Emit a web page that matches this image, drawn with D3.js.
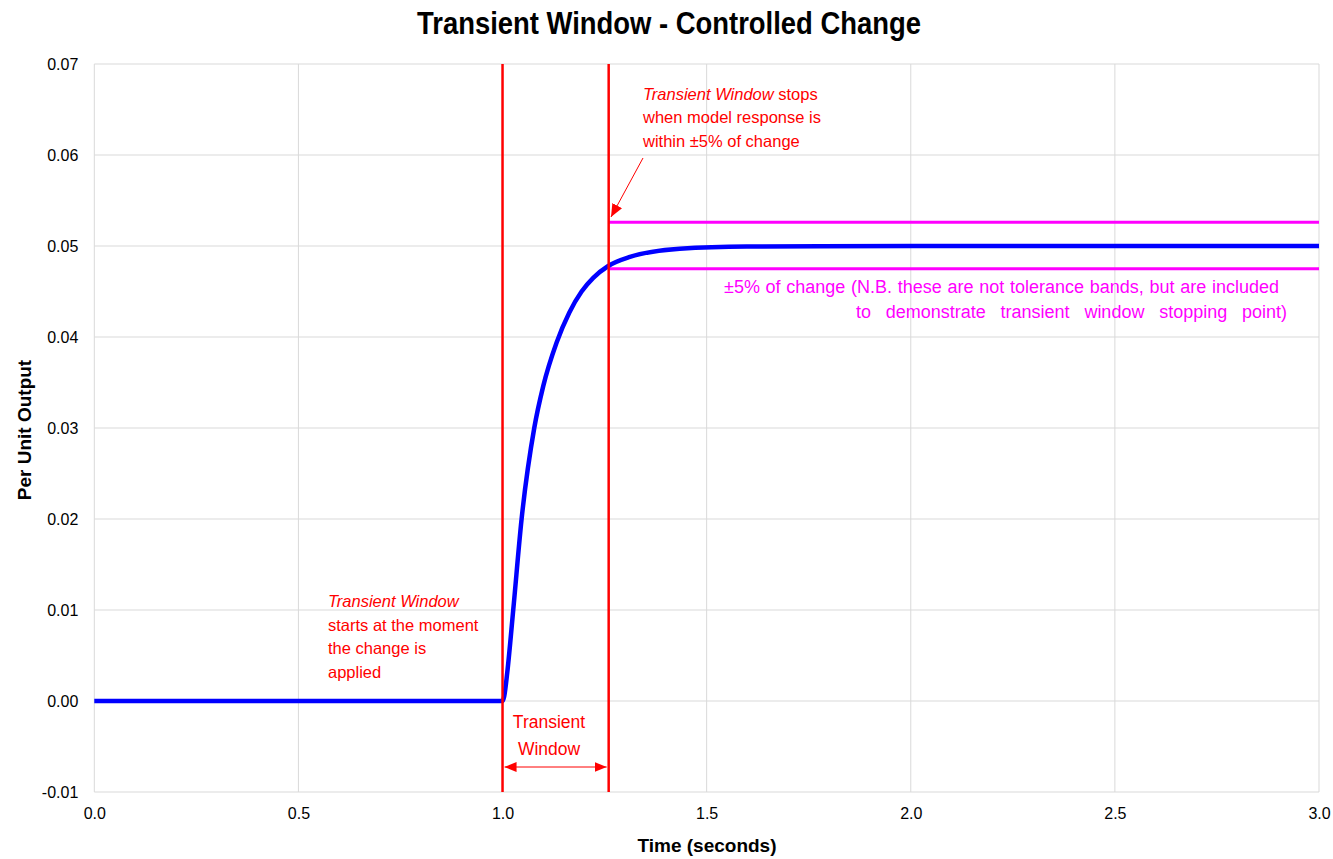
<!DOCTYPE html>
<html><head><meta charset="utf-8">
<script src="https://cdn.jsdelivr.net/npm/d3@7"></script>
<style>
body{margin:0;background:#fff;}
text{font-family:"Liberation Sans Narrow","Arial Narrow","Liberation Sans",Arial,sans-serif;}
</style></head>
<body><svg id="c" width="1333" height="859"></svg>
<script>
const xTicks = [0, 0.5, 1.0, 1.5, 2.0, 2.5, 3.0];
const yTicks = [-0.01, 0.00, 0.01, 0.02, 0.03, 0.04, 0.05, 0.06, 0.07];
const responseTime = [0, 0.5, 1.0, 1.004, 1.0115, 1.0262, 1.0467, 1.0777, 1.0997, 1.1325, 1.1637, 1.1937, 1.2222, 1.2589, 1.312, 1.434, 1.598, 2.0, 2.5, 3.0];
const responseValue = [0, 0, 0, 0.0005, 0.0031, 0.01, 0.02, 0.03, 0.0346, 0.0394, 0.0427, 0.045, 0.0465, 0.0478, 0.0488, 0.0497, 0.04995, 0.05, 0.05, 0.05];
const windowStart = 1.0;
const windowEnd = 1.26;
const bandUpper = 0.0526;
const bandLower = 0.0475;
const bandEnd = 3.0;

const svg = d3.select("#c");
const x = d3.scaleLinear().domain([0, 3]).range([94.3, 1319]);
const y = d3.scaleLinear().domain([-0.01, 0.07]).range([792, 64]);
const grid = "#d9d9d9";
const FF = '"Liberation Sans Narrow","Arial Narrow","Liberation Sans",Arial,sans-serif';

// gridlines
svg.append("g").selectAll("line").data(yTicks).join("line")
  .attr("x1", x(0)).attr("x2", x(3)).attr("y1", d => y(d)).attr("y2", d => y(d))
  .attr("stroke", grid).attr("stroke-width", 1);
svg.append("g").selectAll("line").data(xTicks).join("line")
  .attr("x1", d => x(d)).attr("x2", d => x(d)).attr("y1", y(-0.01)).attr("y2", y(0.07))
  .attr("stroke", grid).attr("stroke-width", 1);

// axes
const yAxis = d3.axisLeft(y).tickValues(yTicks).tickFormat(d => d3.format(".2f")(d).replace("\u2212", "-")).tickSize(0).tickPadding(16);
const gy = svg.append("g").attr("transform", `translate(${x(0)},0)`).call(yAxis);
gy.select(".domain").remove();
gy.selectAll("text").attr("font-size", 16).attr("fill", "#000").style("font-family", FF);
const xAxis = d3.axisBottom(x).tickValues(xTicks).tickFormat(d3.format(".1f")).tickSize(0).tickPadding(16);
const gx = svg.append("g").attr("transform", `translate(0,${y(-0.01)})`).call(xAxis);
gx.select(".domain").remove();
gx.selectAll("text").attr("font-size", 16).attr("fill", "#000").style("font-family", FF);

// titles
svg.append("text").attr("x", 417).attr("y", 34)
  .attr("font-size", 31).attr("font-weight", "bold")
  .attr("textLength", 504).attr("lengthAdjust", "spacingAndGlyphs")
  .text("Transient Window - Controlled Change");
svg.append("text").attr("x", 707).attr("y", 852).attr("text-anchor", "middle")
  .attr("font-size", 19).attr("font-weight", "bold").text("Time (seconds)");
svg.append("text").attr("transform", "translate(31,430) rotate(-90)").attr("text-anchor", "middle")
  .attr("font-size", 19).attr("font-weight", "bold").text("Per Unit Output");

// magenta bands
svg.append("g").selectAll("line").data([bandUpper, bandLower]).join("line")
  .attr("x1", x(windowEnd)).attr("x2", x(bandEnd)).attr("y1", d => y(d)).attr("y2", d => y(d))
  .attr("stroke", "#ff00ff").attr("stroke-width", 3);

// response
const pts = responseTime.map((t, i) => [t, responseValue[i]]);
svg.append("path").datum(pts)
  .attr("d", d3.line().x(d => x(d[0])).y(d => y(d[1])).curve(d3.curveMonotoneX))
  .attr("fill", "none").attr("stroke", "#0000ff").attr("stroke-width", 4.5).attr("stroke-linejoin", "round");

// red vertical lines
svg.append("g").selectAll("line").data([windowStart, windowEnd]).join("line")
  .attr("x1", d => x(d)).attr("x2", d => x(d)).attr("y1", y(0.07)).attr("y2", y(-0.01))
  .attr("stroke", "#ff0000").attr("stroke-width", 2.5);

// markers
const defs = svg.append("defs");
defs.append("marker").attr("id", "ah").attr("viewBox", "0 0 10 10").attr("refX", 10).attr("refY", 5)
  .attr("markerWidth", 12).attr("markerHeight", 10).attr("markerUnits", "userSpaceOnUse").attr("orient", "auto-start-reverse")
  .attr("preserveAspectRatio", "none")
  .append("path").attr("d", "M0,0 L10,5 L0,10 Z").attr("fill", "#ff0000");
defs.append("marker").attr("id", "ah2").attr("viewBox", "0 0 10 10").attr("refX", 10).attr("refY", 5)
  .attr("markerWidth", 13).attr("markerHeight", 11).attr("markerUnits", "userSpaceOnUse").attr("orient", "auto")
  .attr("preserveAspectRatio", "none")
  .append("path").attr("d", "M0,0 L10,5 L0,10 Z").attr("fill", "#ff0000");

// window double arrow
svg.append("line").attr("x1", x(windowStart) + 2).attr("x2", x(windowEnd) - 2).attr("y1", 767).attr("y2", 767)
  .attr("stroke", "#ff0000").attr("stroke-width", 1)
  .attr("marker-start", "url(#ah)").attr("marker-end", "url(#ah)");
svg.append("text").attr("x", 549).attr("y", 728).attr("text-anchor", "middle")
  .attr("font-size", 17.5).attr("fill", "#ff0000").text("Transient");
svg.append("text").attr("x", 549).attr("y", 755).attr("text-anchor", "middle")
  .attr("font-size", 17.5).attr("fill", "#ff0000").text("Window");

// pointer arrow
svg.append("line").attr("x1", 643).attr("y1", 158).attr("x2", 611).attr("y2", 217)
  .attr("stroke", "#ff0000").attr("stroke-width", 1).attr("marker-end", "url(#ah2)");

// start annotation
const a1 = svg.append("text").attr("font-size", 16.5).attr("fill", "#ff0000");
a1.append("tspan").attr("x", 328).attr("y", 607).attr("font-style", "italic").text("Transient Window");
a1.append("tspan").attr("x", 328).attr("y", 631).text("starts at the moment");
a1.append("tspan").attr("x", 328).attr("y", 654).text("the change is");
a1.append("tspan").attr("x", 328).attr("y", 678).text("applied");

// stop annotation
const a2 = svg.append("text").attr("font-size", 16.5).attr("fill", "#ff0000");
const l1 = a2.append("tspan").attr("x", 643).attr("y", 100);
l1.append("tspan").attr("font-style", "italic").text("Transient Window");
l1.append("tspan").text(" stops");
a2.append("tspan").attr("x", 643).attr("y", 123).text("when model response is");
a2.append("tspan").attr("x", 643).attr("y", 147).text("within \u00b15% of change");

// band annotation (word spacing widened to match the reference line widths)
function fitWords(sel, target) {
  const nat = sel.node().getComputedTextLength();
  const spaces = (sel.text().match(/ /g) || []).length;
  if (spaces && target > nat) sel.attr("word-spacing", (target - nat) / spaces);
}
const b1 = svg.append("text").attr("x", 724).attr("y", 293).attr("font-size", 18).attr("fill", "#ff00ff")
  .text("\u00b15% of change (N.B. these are not tolerance bands, but are included");
fitWords(b1, 555);
const b2 = svg.append("text").attr("x", 856).attr("y", 318).attr("font-size", 18).attr("fill", "#ff00ff")
  .text("to demonstrate transient window stopping point)");
fitWords(b2, 431);
</script></body></html>
